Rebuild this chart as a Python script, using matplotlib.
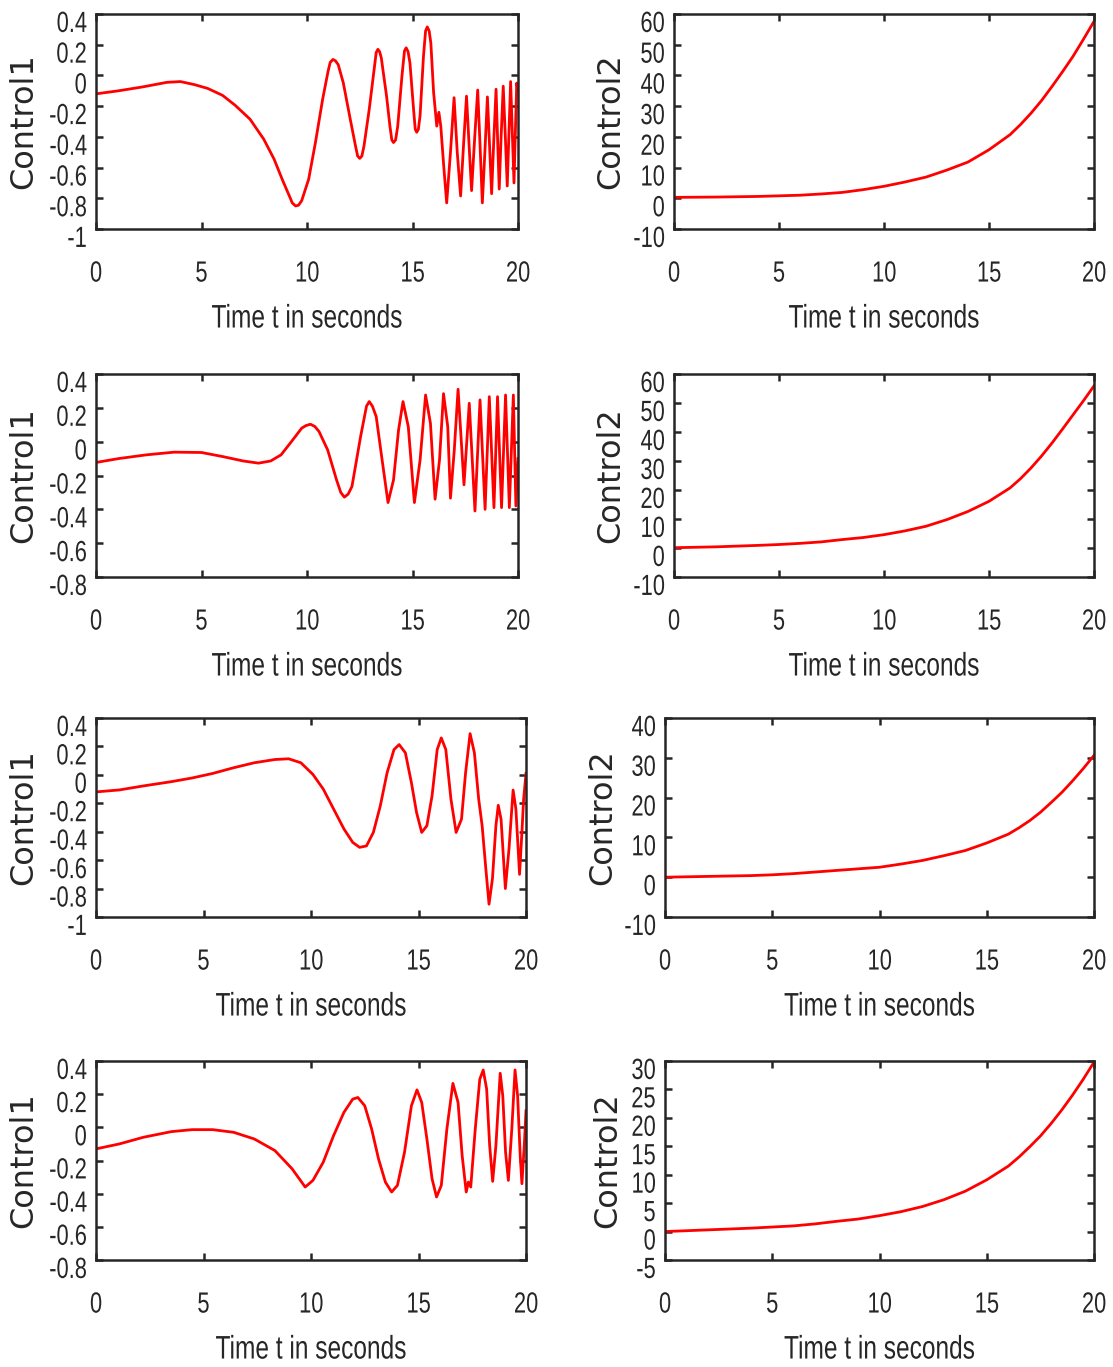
import matplotlib
matplotlib.use("Agg")
import matplotlib.pyplot as plt
from matplotlib.patheffects import AbstractPathEffect
from matplotlib.transforms import Affine2D, ScaledTranslation

# ---------------- data ----------------
# Row 1, Control1
t_a1 = [0, 1.07, 2.2, 3.36, 4.0, 4.67, 5.3, 6.0, 6.6, 7.3, 7.95, 8.44, 8.85, 9.18, 9.3, 9.46, 9.6,
        9.75, 10.08, 10.4, 10.74, 11.0, 11.1, 11.23, 11.35, 11.48, 11.72, 12.05, 12.3, 12.4, 12.5,
        12.6, 12.7, 12.95, 13.2, 13.28, 13.36, 13.44, 13.52, 13.77, 13.93, 14.02, 14.1, 14.2, 14.3,
        14.5, 14.62, 14.7, 14.79, 14.88, 15.05, 15.13, 15.2, 15.28, 15.36, 15.52, 15.62, 15.7,
        15.79, 15.87, 16.0, 16.15, 16.25, 16.34, 16.48, 16.62, 16.8, 16.97, 17.12, 17.28, 17.42,
        17.56, 17.68, 17.8, 17.95, 18.09, 18.2, 18.31, 18.43, 18.55, 18.65, 18.75, 18.85, 18.96,
        19.03, 19.11, 19.2, 19.3, 19.4, 19.49, 19.57, 19.65, 19.73, 19.81, 19.88, 19.94, 20.0]
y_a1 = [-0.12, -0.10, -0.075, -0.045, -0.04, -0.06, -0.085, -0.13, -0.195, -0.285, -0.415, -0.545,
        -0.685, -0.79, -0.83, -0.85, -0.845, -0.815, -0.675, -0.437, -0.156, 0.028, 0.085, 0.104,
        0.095, 0.07, -0.048, -0.285, -0.46, -0.525, -0.54, -0.525, -0.46, -0.22, 0.06, 0.15, 0.17,
        0.155, 0.115, -0.134, -0.33, -0.42, -0.437, -0.42, -0.33, -0.004, 0.16, 0.18, 0.155, 0.08,
        -0.22, -0.35, -0.37, -0.35, -0.26, 0.125, 0.29, 0.316, 0.29, 0.21, -0.11, -0.33, -0.24,
        -0.33, -0.59, -0.83, -0.5, -0.145, -0.5, -0.785, -0.45, -0.135, -0.45, -0.75, -0.4, -0.095,
        -0.45, -0.83, -0.5, -0.14, -0.45, -0.77, -0.43, -0.09, -0.4, -0.74, -0.4, -0.07, -0.4,
        -0.72, -0.38, -0.04, -0.37, -0.70, -0.35, -0.05, -0.1]

# Row 2, Control1
t_a2 = [0, 1.07, 2.38, 3.7, 5.0, 6.0, 6.97, 7.7, 8.28, 8.77, 9.26, 9.75, 9.95, 10.16, 10.37, 10.57,
        10.98, 11.4, 11.6, 11.77, 11.95, 12.13, 12.54, 12.82, 12.95, 13.1, 13.28, 13.56, 13.84,
        14.1, 14.34, 14.55, 14.8, 15.09, 15.36, 15.62, 15.85, 16.07, 16.28, 16.47, 16.67, 16.8,
        16.98, 17.16, 17.44, 17.69, 17.96, 18.2, 18.44, 18.64, 18.86, 19.03, 19.22, 19.41, 19.59,
        19.78, 19.9, 20.0]
y_a2 = [-0.123, -0.10, -0.078, -0.062, -0.064, -0.088, -0.114, -0.127, -0.114, -0.078, 0.0, 0.08,
        0.095, 0.103, 0.09, 0.06, -0.049, -0.226, -0.30, -0.328, -0.31, -0.265, 0.03, 0.21, 0.237,
        0.21, 0.148, -0.108, -0.36, -0.226, 0.07, 0.237, 0.089, -0.36, -0.108, 0.276, 0.109, -0.34,
        -0.108, 0.284, 0.089, -0.334, -0.05, 0.31, -0.255, 0.227, -0.41, 0.247, -0.40, 0.266,
        -0.39, 0.266, -0.39, 0.276, -0.39, 0.276, -0.38, -0.1]

# Row 3, Control1
t_a3 = [0, 1.09, 2.2, 3.5, 4.47, 5.43, 6.4, 7.36, 8.32, 8.96, 9.53, 10.09, 10.57, 11.05, 11.53,
        11.94, 12.26, 12.58, 12.9, 13.22, 13.54, 13.86, 14.1, 14.39, 14.67, 14.91, 15.15, 15.39,
        15.63, 15.87, 16.06, 16.27, 16.51, 16.75, 17.0, 17.19, 17.4, 17.6, 17.8, 17.96, 18.12,
        18.28, 18.44, 18.6, 18.71, 18.84, 19.04, 19.21, 19.4, 19.53, 19.7, 19.81, 19.89, 20.0]
y_a3 = [-0.12, -0.106, -0.078, -0.048, -0.022, 0.01, 0.05, 0.085, 0.108, 0.113, 0.085, 0.003,
        -0.10, -0.24, -0.38, -0.475, -0.51, -0.50, -0.405, -0.22, 0.015, 0.178, 0.213, 0.155,
        -0.055, -0.265, -0.405, -0.358, -0.148, 0.178, 0.26, 0.178, -0.172, -0.405, -0.312, 0.015,
        0.29, 0.155, -0.172, -0.358, -0.64, -0.91, -0.73, -0.358, -0.214, -0.312, -0.80, -0.52,
        -0.107, -0.24, -0.70, -0.405, -0.17, 0.01]

# Row 4, Control1
t_a4 = [0, 1.09, 2.2, 3.5, 4.47, 5.43, 6.4, 7.36, 8.32, 9.12, 9.73, 10.09, 10.57, 11.05, 11.53,
        11.94, 12.18, 12.5, 12.82, 13.14, 13.46, 13.75, 14.02, 14.35, 14.67, 14.93, 15.15, 15.39,
        15.63, 15.84, 16.06, 16.32, 16.6, 16.84, 17.03, 17.22, 17.32, 17.43, 17.64, 17.85, 18.01,
        18.17, 18.31, 18.45, 18.6, 18.8, 18.92, 19.05, 19.18, 19.34, 19.49, 19.61, 19.73, 19.81,
        19.92, 20.0]
y_a4 = [-0.13, -0.10, -0.06, -0.026, -0.014, -0.014, -0.03, -0.07, -0.14, -0.25, -0.36, -0.32,
        -0.21, -0.05, 0.09, 0.17, 0.18, 0.13, -0.01, -0.19, -0.33, -0.39, -0.35, -0.15, 0.13,
        0.226, 0.15, -0.07, -0.31, -0.42, -0.35, -0.01, 0.265, 0.15, -0.17, -0.39, -0.33, -0.36,
        -0.01, 0.29, 0.346, 0.23, -0.11, -0.326, -0.11, 0.326, 0.19, -0.15, -0.32, -0.01, 0.346,
        0.19, -0.17, -0.34, -0.11, 0.10]

# Right column, Control2
t_b = [0, 2, 4, 5, 6, 7, 8, 9, 10, 11, 12, 13, 14, 15, 16, 16.5, 17, 17.5, 18, 18.5, 19, 19.5, 20]
y_b1 = [0.3, 0.4, 0.6, 0.8, 1.0, 1.4, 1.9, 2.8, 3.9, 5.3, 6.9, 9.2, 11.8, 15.8, 20.7, 24.0, 27.7,
        31.8, 36.4, 41.2, 46.2, 51.8, 57.6]
y_b2 = [0.1, 0.4, 0.9, 1.2, 1.6, 2.1, 2.9, 3.6, 4.6, 5.9, 7.5, 9.8, 12.6, 16.1, 20.7, 23.9, 27.6,
        31.7, 36.2, 41.0, 45.9, 50.8, 55.9]
y_b3 = [0.0, 0.2, 0.4, 0.6, 0.9, 1.3, 1.7, 2.1, 2.5, 3.3, 4.2, 5.4, 6.7, 8.6, 10.8, 12.4, 14.2,
        16.3, 18.75, 21.3, 24.2, 27.3, 30.6]
y_b4 = [0.0, 0.3, 0.6, 0.8, 1.0, 1.35, 1.8, 2.2, 2.8, 3.5, 4.4, 5.6, 7.1, 9.1, 11.5, 13.1, 14.9,
        16.8, 19.0, 21.4, 24.0, 26.8, 29.8]

x_ticks = [0, 5, 10, 15, 20]
yt_left_a = [-1, -0.8, -0.6, -0.4, -0.2, 0, 0.2, 0.4]
yt_left_b = [-0.8, -0.6, -0.4, -0.2, 0, 0.2, 0.4]
yt_right_60 = [-10, 0, 10, 20, 30, 40, 50, 60]
yt_right_40 = [-10, 0, 10, 20, 30, 40]
yt_right_30 = [-5, 0, 5, 10, 15, 20, 25, 30]
xlabel_text = "Time t in seconds"


# ---------------- helpers ----------------
class HSqueeze(AbstractPathEffect):
    """Render text narrower horizontally (the reference uses a condensed look)."""

    def __init__(self, sx, anchor='center'):
        super().__init__()
        self.sx = sx
        self.anchor = anchor

    def draw_path(self, renderer, gc, tpath, affine, rgbFace=None):
        ext = tpath.transformed(affine).get_extents()
        if self.anchor == 'right':
            px = ext.x1
        elif self.anchor == 'left':
            px = ext.x0
        else:
            px = 0.5 * (ext.x0 + ext.x1)
        aff = affine + Affine2D().translate(-px, 0).scale(self.sx, 1.0).translate(px, 0)
        renderer.draw_path(gc, tpath, aff, rgbFace)


W, H = 1113, 1367
fig = plt.figure(figsize=(W / 100, H / 100), dpi=100)

NARROW = ['Liberation Sans', 'DejaVu Sans']
WIDE = ['DejaVu Sans']
RED = '#ff0000'
EDGE = '#262626'
SQ = 0.75


def fmt(v):
    return '%g' % v


def make_panel(box, t, y, ylim, yticks, ylabel, ylab_x):
    x0, y0, x1, y1 = box  # pixel coords (left, top, right, bottom)
    ax = fig.add_axes([x0 / W, 1 - y1 / H, (x1 - x0) / W, (y1 - y0) / H])
    ax.plot(t, y, color=RED, lw=2.0)
    ax.set_xlim(0, 20)
    ax.set_ylim(*ylim)
    ax.set_xticks(x_ticks)
    ax.set_xticklabels([fmt(v) for v in x_ticks], family=NARROW, fontsize=21)
    ax.set_yticks(yticks)
    ax.set_yticklabels([fmt(v) for v in yticks], family=NARROW, fontsize=21)
    ax.tick_params(direction='in', length=5, width=1.8, color=EDGE, top=True, right=True,
                   labelcolor=EDGE)
    ax.tick_params(axis='x', pad=22)
    ax.tick_params(axis='y', pad=6.5)
    for lab in ax.get_xticklabels():
        lab.set_path_effects([HSqueeze(SQ, 'center')])
    off = ScaledTranslation(0, -5 / 72, fig.dpi_scale_trans)
    for lab in ax.get_yticklabels():
        lab.set_path_effects([HSqueeze(SQ, 'right')])
        lab.set_transform(lab.get_transform() + off)
    for sp in ax.spines.values():
        sp.set_linewidth(1.8)
        sp.set_color(EDGE)
    xl = ax.set_xlabel(xlabel_text, family=NARROW, fontsize=23.5, color=EDGE, labelpad=11.5)
    xl.set_path_effects([HSqueeze(SQ, 'center')])
    ax.set_ylabel(ylabel, family=WIDE, fontsize=23, color=EDGE)
    ax.yaxis.set_label_coords(ylab_x, 0.5)
    return ax


rows_left = [(96, 14, 518, 229), (96, 374, 518, 577), (96, 718, 526, 917), (96, 1061, 526, 1260)]
rows_right = [(674, 14, 1094, 229), (674, 374, 1094, 577), (665, 718, 1094, 917),
              (665, 1061, 1094, 1260)]

make_panel(rows_left[0], t_a1, y_a1, (-1, 0.4), yt_left_a, 'Control1', -0.135)
make_panel(rows_left[1], t_a2, y_a2, (-0.8, 0.4), yt_left_b, 'Control1', -0.135)
make_panel(rows_left[2], t_a3, y_a3, (-1, 0.4), yt_left_a, 'Control1', -0.133)
make_panel(rows_left[3], t_a4, y_a4, (-0.8, 0.4), yt_left_b, 'Control1', -0.133)

make_panel(rows_right[0], t_b, y_b1, (-10, 60), yt_right_60, 'Control2', -0.114)
make_panel(rows_right[1], t_b, y_b2, (-10, 60), yt_right_60, 'Control2', -0.114)
make_panel(rows_right[2], t_b, y_b3, (-10, 40), yt_right_40, 'Control2', -0.11)
make_panel(rows_right[3], t_b, y_b4, (-5, 30), yt_right_30, 'Control2', -0.097)

fig.savefig('out.png', dpi=100)
